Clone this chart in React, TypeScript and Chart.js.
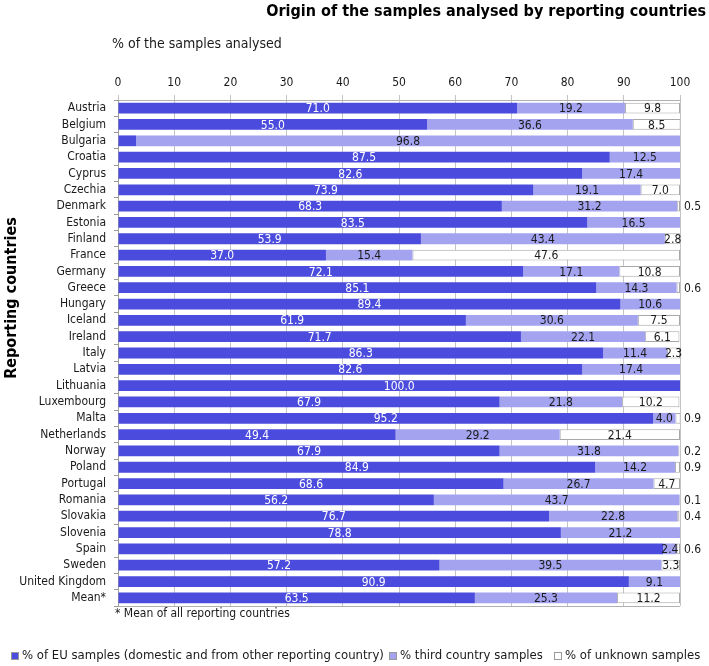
import React, { useEffect, useRef } from "react";
import { Chart, registerables } from "chart.js";

Chart.register(...registerables);

const countries = [
  "Austria", "Belgium", "Bulgaria", "Croatia", "Cyprus", "Czechia", "Denmark", "Estonia",
  "Finland", "France", "Germany", "Greece", "Hungary", "Iceland", "Ireland", "Italy",
  "Latvia", "Lithuania", "Luxembourg", "Malta", "Netherlands", "Norway", "Poland",
  "Portugal", "Romania", "Slovakia", "Slovenia", "Spain", "Sweden", "United Kingdom", "Mean*",
];

const euSamples = [
  71.0, 55.0, 3.2, 87.5, 82.6, 73.9, 68.3, 83.5, 53.9, 37.0, 72.1, 85.1, 89.4, 61.9, 71.7, 86.3,
  82.6, 100.0, 67.9, 95.2, 49.4, 67.9, 84.9, 68.6, 56.2, 76.7, 78.8, 97.0, 57.2, 90.9, 63.5,
];

const thirdCountry = [
  19.2, 36.6, 96.8, 12.5, 17.4, 19.1, 31.2, 16.5, 43.4, 15.4, 17.1, 14.3, 10.6, 30.6, 22.1, 11.4,
  17.4, 0, 21.8, 4.0, 29.2, 31.8, 14.2, 26.7, 43.7, 22.8, 21.2, 2.4, 39.5, 9.1, 25.3,
];

const unknownOrigin = [
  9.8, 8.5, 0, 0, 0, 7.0, 0.5, 0, 2.8, 47.6, 10.8, 0.6, 0, 7.5, 6.1, 2.3,
  0, 0, 10.2, 0.9, 21.4, 0.2, 0.9, 4.7, 0.1, 0.4, 0, 0.6, 3.3, 0, 11.2,
];

// value labels not printed in the original (dataset index : country)
const hiddenLabels = ["0:Bulgaria", "0:Spain"];

const xTicks = [0, 10, 20, 30, 40, 50, 60, 70, 80, 90, 100];

const seriesNames = [
  "% of EU samples (domestic and from other reporting country)",
  "% third country samples",
  "% of unknown samples",
];

const titleText = "Origin of the samples analysed by reporting countries";
const subtitleText = "% of the samples analysed";
const yTitleText = "Reporting countries";
const footnoteText = "* Mean of all reporting countries";

const FONT = "'DejaVu Sans Condensed', 'DejaVu Sans', sans-serif";
const EU_COLOR = "#4b4bdd";
const THIRD_COLOR = "#a3a3f0";
const UNKNOWN_COLOR = "#ffffff";
const colors = [EU_COLOR, THIRD_COLOR, UNKNOWN_COLOR];

const decorPlugin = {
  id: "decor",
  afterDatasetsDraw(chart: any) {
    const ctx = chart.ctx;
    const area = chart.chartArea;
    ctx.save();
    ctx.font = `12px ${FONT}`;
    ctx.textBaseline = "middle";
    chart.data.datasets.forEach((ds: any, di: number) => {
      const meta = chart.getDatasetMeta(di);
      ds.data.forEach((v: any, i: number) => {
        if (v === null || v === undefined || v === 0) return;
        if (hiddenLabels.includes(`${di}:${countries[i]}`)) return;
        const el: any = meta.data[i];
        if (!el) return;
        const txt = Number(v).toFixed(1);
        ctx.fillStyle = di === 0 ? "#ffffff" : "#1a1a1a";
        if (v < 1) {
          ctx.textAlign = "left";
          ctx.fillText(txt, area.right + 4, el.y + 1);
        } else {
          ctx.textAlign = "center";
          ctx.fillText(txt, (el.x + el.base) / 2, el.y + 1);
        }
      });
    });
    // bottom border
    ctx.strokeStyle = "#b0b0b0";
    ctx.lineWidth = 1;
    ctx.beginPath();
    ctx.moveTo(area.left, area.bottom + 0.5);
    ctx.lineTo(area.right, area.bottom + 0.5);
    ctx.stroke();
    ctx.restore();
  },
  afterDraw(chart: any) {
    const ctx = chart.ctx;
    const area = chart.chartArea;
    ctx.save();
    ctx.fillStyle = "#000";
    // title
    ctx.font = `bold 16px ${FONT}`;
    ctx.textAlign = "right";
    ctx.textBaseline = "middle";
    ctx.fillText(titleText, 706, 12);
    // subtitle
    ctx.font = `14px ${FONT}`;
    ctx.textAlign = "left";
    ctx.fillStyle = "#1a1a1a";
    ctx.fillText(subtitleText, 112, 44);
    // y title
    ctx.save();
    ctx.translate(12, 298);
    ctx.rotate(-Math.PI / 2);
    ctx.font = `bold 16px ${FONT}`;
    ctx.textAlign = "center";
    ctx.fillStyle = "#000";
    ctx.fillText(yTitleText, 0, 0);
    ctx.restore();
    // footnote
    ctx.font = `12px ${FONT}`;
    ctx.textAlign = "left";
    ctx.fillStyle = "#1a1a1a";
    ctx.fillText(footnoteText, area.left - 3, 614);
    // legend
    const ly = 656;
    const starts = [11, 389, 554];
    seriesNames.forEach((name, i) => {
      const x = starts[i];
      ctx.fillStyle = colors[i];
      ctx.fillRect(x, ly - 4, 8, 8);
      ctx.strokeStyle = "#9a9a9a";
      ctx.lineWidth = 1;
      ctx.strokeRect(x + 0.5, ly - 3.5, 7, 7);
      ctx.fillStyle = "#1a1a1a";
      ctx.font = `13px ${FONT}`;
      ctx.textAlign = "left";
      ctx.fillText(name, x + 11, ly);
    });
    ctx.restore();
  },
};

export default function App() {
  const canvasRef = useRef<HTMLCanvasElement | null>(null);

  useEffect(() => {
    if (!canvasRef.current) return;
    const toData = (arr: number[]) => arr.map((v) => (v === 0 ? null : v));
    const chart = new Chart(canvasRef.current, {
      type: "bar",
      data: {
        labels: countries,
        datasets: [
          {
            label: seriesNames[0],
            data: toData(euSamples),
            backgroundColor: EU_COLOR,
            borderWidth: 0,
          },
          {
            label: seriesNames[1],
            data: toData(thirdCountry),
            backgroundColor: THIRD_COLOR,
            borderColor: "#9a9ad8",
            borderWidth: 0,
          },
          {
            label: seriesNames[2],
            data: toData(unknownOrigin),
            backgroundColor: UNKNOWN_COLOR,
            borderColor: "#a8a8a8",
            borderWidth: 1,
            borderSkipped: false,
          },
        ] as any,
      },
      options: {
        indexAxis: "y",
        responsive: false,
        animation: false,
        maintainAspectRatio: false,
        layout: { padding: { left: 0, top: 0, right: 29, bottom: 60 } },
        datasets: {
          bar: { barPercentage: 1, categoryPercentage: 0.66 },
        } as any,
        plugins: {
          legend: { display: false },
          title: { display: false },
          tooltip: { enabled: false },
        },
        scales: {
          x: {
            position: "top",
            stacked: true,
            min: 0,
            max: 100,
            afterBuildTicks: (scale: any) => {
              scale.ticks = xTicks.map((v) => ({ value: v }));
            },
            afterFit: (scale: any) => {
              scale.height = 100;
            },
            ticks: {
              padding: 5,
              color: "#1a1a1a",
              font: { size: 12, family: FONT },
              maxRotation: 0,
            },
            grid: {
              color: "#c4c4c4",
              tickLength: 5,
              lineWidth: 1,
            },
            border: { display: true, color: "#b0b0b0" },
          },
          y: {
            stacked: true,
            afterFit: (scale: any) => {
              scale.width = 118;
            },
            ticks: {
              padding: 8,
              color: "#1a1a1a",
              font: { size: 12, family: FONT },
              autoSkip: false,
            },
            grid: {
              offset: true,
              drawOnChartArea: false,
              tickLength: 4,
              color: "#999999",
            },
            border: { display: true, color: "#a0a0a0" },
          },
        },
      } as any,
      plugins: [decorPlugin],
    });
    return () => chart.destroy();
  }, []);

  return (
    <div style={{ position: "absolute", left: 0, top: 0, width: 709, height: 666, background: "#fff" }}>
      <canvas ref={canvasRef} width={709} height={666} style={{ display: "block" }} />
    </div>
  );
}
